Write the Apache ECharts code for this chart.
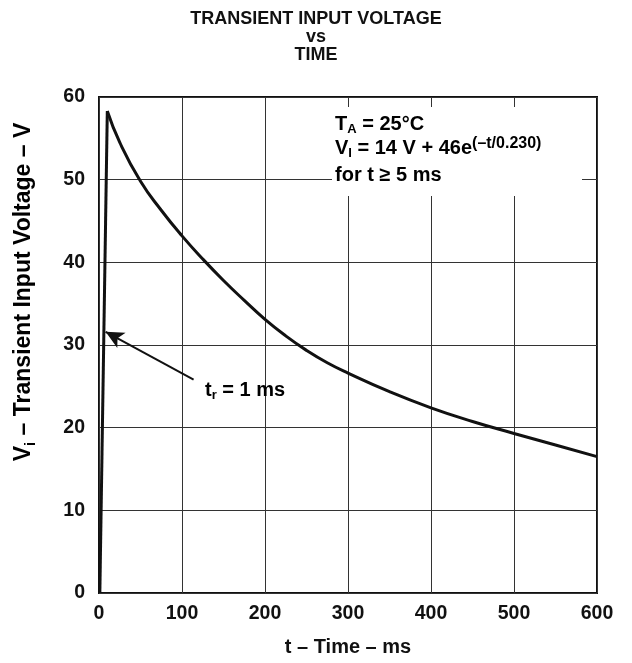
<!DOCTYPE html>
<html>
<head>
<meta charset="utf-8">
<script src="https://cdn.jsdelivr.net/npm/echarts@6/dist/echarts.min.js"></script>
<style>html,body{margin:0;padding:0;background:#fff;}#c{width:632px;height:663px;}</style>
</head>
<body>
<div id="c"></div>
<script>
// Rise portion (t in ms, V in volts)
var riseT = [1, 10];
var riseV = [0, 58.3];
// Decay portion
var decayT = [10, 25, 50, 75, 100, 125, 150, 175, 200, 225, 250, 275, 300, 350, 400, 450, 500, 550, 600];
var decayV = [58.3, 54.5, 49.8, 46.3, 43.2, 40.4, 37.8, 35.4, 33.1, 31.1, 29.35, 27.85, 26.6, 24.35, 22.4, 20.75, 19.3, 17.9, 16.5];
// Axis ticks
var xTicks = [0, 100, 200, 300, 400, 500, 600];
var yTicks = [0, 10, 20, 30, 40, 50, 60];
// Arrow annotation (tail -> tip)
var arrowFrom = [114, 25.8];
var arrowTo = [8, 31.6];

function pairs(xs, ys) { return xs.map(function (x, i) { return [x, ys[i]]; }); }

var FONT = 'Liberation Sans, Arial, Helvetica, sans-serif';
var INK = '#111';
var chart = echarts.init(document.getElementById('c'), null, {renderer: 'canvas'});

function st(size, va, lh) {
  return {fontSize: size, fontWeight: 'bold', fontFamily: FONT, color: INK, lineHeight: lh || 24, verticalAlign: va || 'middle'};
}
var base = st(20, 'middle');
var sub = st(13, 'bottom');
var sup = st(16, 'top');
var yBase = st(23, 'middle', 28);
var ySub = st(15, 'bottom', 28);

chart.setOption({
  backgroundColor: '#fff',
  animation: false,
  title: {
    text: 'TRANSIENT INPUT VOLTAGE\nvs\nTIME',
    left: 'center',
    top: 5,
    textStyle: {fontSize: 18, fontWeight: 'bold', fontFamily: FONT, color: INK, lineHeight: 18}
  },
  grid: {left: 99, right: 35, top: 97, bottom: 70, show: true, borderColor: INK, borderWidth: 2, backgroundColor: 'transparent'},
  xAxis: {
    type: 'value', min: xTicks[0], max: xTicks[xTicks.length - 1], interval: xTicks[1] - xTicks[0],
    name: 't \u2013 Time \u2013 ms', nameLocation: 'middle', nameGap: 44,
    nameTextStyle: {fontSize: 20, fontWeight: 'bold', fontFamily: FONT, color: INK},
    axisLine: {show: false}, axisTick: {show: false},
    axisLabel: {fontSize: 19.5, fontWeight: 'bold', fontFamily: FONT, color: INK, margin: 11},
    splitLine: {show: true, lineStyle: {color: '#333', width: 1}}
  },
  yAxis: {
    type: 'value', min: yTicks[0], max: yTicks[yTicks.length - 1], interval: yTicks[1] - yTicks[0],
    axisLine: {show: false}, axisTick: {show: false},
    axisLabel: {fontSize: 19.5, fontWeight: 'bold', fontFamily: FONT, color: INK, margin: 14},
    splitLine: {show: true, lineStyle: {color: '#333', width: 1}}
  },
  series: [
    {
      type: 'line', data: pairs(riseT, riseV), showSymbol: false, smooth: false,
      lineStyle: {color: INK, width: 3}, z: 3
    },
    {
      type: 'line', data: pairs(decayT, decayV), showSymbol: false, smooth: 0.5,
      lineStyle: {color: INK, width: 3}, z: 3,
      markLine: {
        silent: true, symbol: ['none', 'arrow'], symbolSize: [13, 18],
        label: {show: false},
        lineStyle: {color: INK, width: 2, type: 'solid'},
        data: [[{coord: arrowFrom}, {coord: arrowTo}]]
      }
    }
  ],
  graphic: [
    {type: 'rect', z: 10, shape: {x: 332, y: 107, width: 250, height: 89}, style: {fill: '#fff'}},
    {type: 'text', z: 11, x: 335, y: 124, style: {text: '{a|T}{s|A}{a| = 25\u00B0C}', rich: {a: base, s: sub}, textVerticalAlign: 'middle'}},
    {type: 'text', z: 11, x: 335, y: 148, style: {text: '{a|V}{s|I}{a| = 14 V + 46e}{p|(\u2013t/0.230)}', rich: {a: base, s: sub, p: sup}, textVerticalAlign: 'middle'}},
    {type: 'text', z: 11, x: 335, y: 175, style: {text: '{a|for t \u2265 5 ms}', rich: {a: base}, textVerticalAlign: 'middle'}},
    {type: 'text', z: 11, x: 205, y: 390, style: {text: '{a|t}{s|r}{a| = 1 ms}', rich: {a: base, s: sub}, textVerticalAlign: 'middle'}},
    {type: 'text', z: 11, x: 24, y: 292, rotation: Math.PI / 2,
      style: {text: '{a|V}{s|i}{a| \u2013 Transient Input Voltage \u2013 V}', rich: {a: yBase, s: ySub}, textAlign: 'center', textVerticalAlign: 'middle'}}
  ]
});
</script>
</body>
</html>
